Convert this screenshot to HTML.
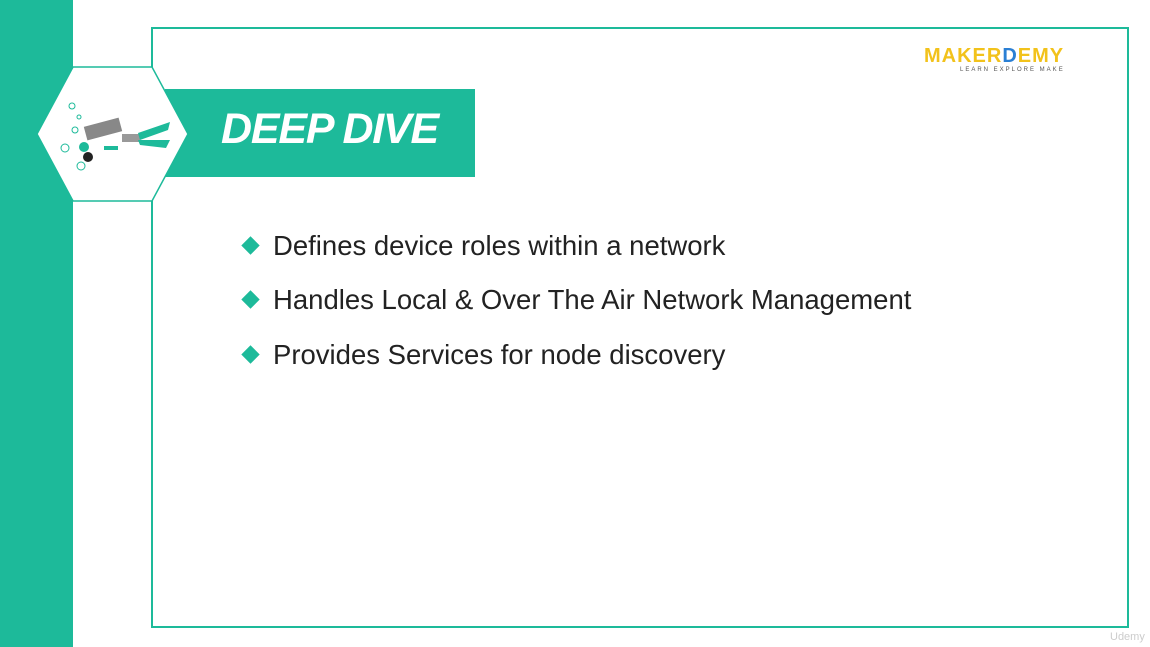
<!DOCTYPE html>
<html><head><style>
body{margin:0;width:1150px;height:647px;background:#fff;position:relative;overflow:hidden;font-family:"Liberation Sans",sans-serif}
.a{position:absolute}
.li{position:absolute;left:240px;font-size:27.5px;color:#222;white-space:nowrap;letter-spacing:0px}
.li i{display:inline-block;width:13px;height:13px;background:#1dba9a;transform:rotate(45deg);margin:0 16px 4px 4px;vertical-align:middle}
</style></head><body>
<div class="a" style="left:0;top:0;width:73px;height:647px;background:#1dba9a"></div>
<div class="a" style="left:151px;top:27px;width:978px;height:601px;border:2px solid #1dba9a;box-sizing:border-box"></div>
<div class="a" style="left:165px;top:89px;width:310px;height:88px;background:#1dba9a"></div>
<div class="a" style="left:221px;top:105px;font-size:43px;font-weight:bold;font-style:italic;color:#fff;letter-spacing:-1.2px">DEEP DIVE</div>
<svg class="a" style="left:0;top:0" width="200" height="220">
<polygon points="37,134 73,67 152,67 188,134 152,201 73,201" fill="#fff" stroke="#1dba9a" stroke-width="1.5"/>
<g fill="none" stroke="#1dba9a" stroke-width="1">
<circle cx="72" cy="106" r="3"/><circle cx="79" cy="117" r="2"/><circle cx="75" cy="130" r="3"/><circle cx="65" cy="148" r="4"/><circle cx="81" cy="166" r="4"/></g>
<rect x="85" y="122" width="36" height="14" fill="#888" transform="rotate(-15 103 129)"/>
<rect x="122" y="134" width="18" height="8" fill="#999"/>
<path d="M138 133 L170 122 L168 130 L140 140Z M138 140 L170 140 L166 148 L140 145Z" fill="#1dba9a"/>
<circle cx="84" cy="147" r="5" fill="#1dba9a"/>
<circle cx="88" cy="157" r="5" fill="#222"/>
<rect x="104" y="146" width="14" height="4" fill="#1dba9a"/>
</svg>
<div class="a" style="left:924px;top:45px;font-size:20px;font-weight:bold;color:#f2c21b;letter-spacing:1px">MAKER<span style="color:#2a7fd4">D</span>EMY</div>
<div class="a" style="left:960px;top:67px;font-size:6px;color:#555;letter-spacing:2px">LEARN EXPLORE MAKE</div>
<div class="li" style="top:230px"><i></i>Defines device roles within a network</div>
<div class="li" style="top:284px"><i></i>Handles Local &amp; Over The Air Network Management</div>
<div class="li" style="top:339px"><i></i>Provides Services for node discovery</div>
<div class="a" style="left:1110px;top:631px;font-size:11px;color:#ccc">Udemy</div>
</body></html>
